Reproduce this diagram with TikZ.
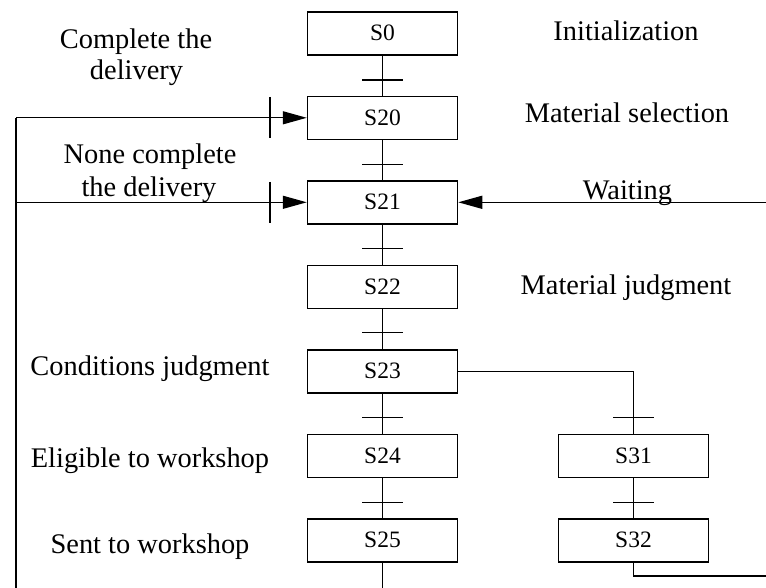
\documentclass[tikz,border=0pt]{standalone}
\usepackage{fontspec}
\setmainfont{Liberation Serif}
\usetikzlibrary{arrows.meta}
\begin{document}
\begin{tikzpicture}[x=1pt,y=-1pt,
  stepbox/.style={draw,line width=1.5pt,minimum width=150pt,minimum height=43pt,inner sep=0pt,font=\fontsize{23.5}{28}\selectfont},
  lbl/.style={anchor=base,inner sep=0pt,font=\fontsize{28.4}{32}\selectfont},
  conn/.style={line width=1.3pt},
  arr/.style={conn,-{Triangle[length=24pt,width=13pt]}},
  tickmark/.style={line width=1.3pt}]
\useasboundingbox (0,0) rectangle (766,588);
% steps
\node[stepbox] (s0)  at (382.5,33.3)  {S0};
\node[stepbox] (s20) at (382.5,117.8) {S20};
\node[stepbox] (s21) at (382.5,202.3) {S21};
\node[stepbox] (s22) at (382.5,286.8) {S22};
\node[stepbox] (s23) at (382.5,371.3) {S23};
\node[stepbox] (s24) at (382.5,455.8) {S24};
\node[stepbox] (s25) at (382.5,540.3) {S25};
\node[stepbox] (s31) at (633.5,455.8) {S31};
\node[stepbox] (s32) at (633.5,540.3) {S32};
% free ends
\coordinate (lt) at (16,117.8);
\coordinate (lm) at (16,202.3);
\coordinate (lb) at (16,588);
\coordinate (wr) at (766,202.3);
\coordinate (br) at (766,576);
\coordinate (s25e) at (382.5,588);
% connectors
\draw[conn] (s0) -- (s20);
\draw[conn] (s20) -- (s21);
\draw[conn] (s21) -- (s22);
\draw[conn] (s22) -- (s23);
\draw[conn] (s23) -- (s24);
\draw[conn] (s24) -- (s25);
\draw[conn] (s31) -- (s32);
\draw[conn] (s23.east) -| (s31.north);
\draw[conn] (s32.south) |- (br);
\draw[conn] (s25.south) -- (s25e);
\draw[conn] (lb) -- (lt);
\draw[arr] (lt) -- (s20.west);
\draw[arr] (lm) -- (s21.west);
\draw[arr] (wr) -- (s21.east);
% transition ticks
\foreach \y in {80,164.3,248.3,332.3,417.3,502.7}
  \draw[tickmark] (382.5,\y) +(-20.5,0) -- +(20.5,0);
\foreach \y in {417.3,502.7}
  \draw[tickmark] (633.5,\y) +(-20.5,0) -- +(20.5,0);
\foreach \y in {117.3,202.3}
  \draw[tickmark] (270,\y) +(0,-20.5) -- +(0,20.5);
% labels
\node[lbl] (l0)  at (626,40.7)   {Initialization};
\node[lbl] (l1a) at (136,48.3)   {Complete the};
\node[lbl] (l1b) at (136.5,79.3) {delivery};
\node[lbl] (l2)  at (627,122.3)  {Material selection};
\node[lbl] (l3a) at (150,163.3)  {None complete};
\node[lbl] (l3b) at (149,196.7)  {the delivery};
\node[lbl] (l4)  at (627.5,200)  {Waiting};
\node[lbl] (l5)  at (626,294.3)  {Material judgment};
\node[lbl] (l6)  at (150,375.5)  {Conditions judgment};
\node[lbl] (l7)  at (150,467.7)  {Eligible to workshop};
\node[lbl] (l8)  at (150,553)    {Sent to workshop};
\end{tikzpicture}
\end{document}
